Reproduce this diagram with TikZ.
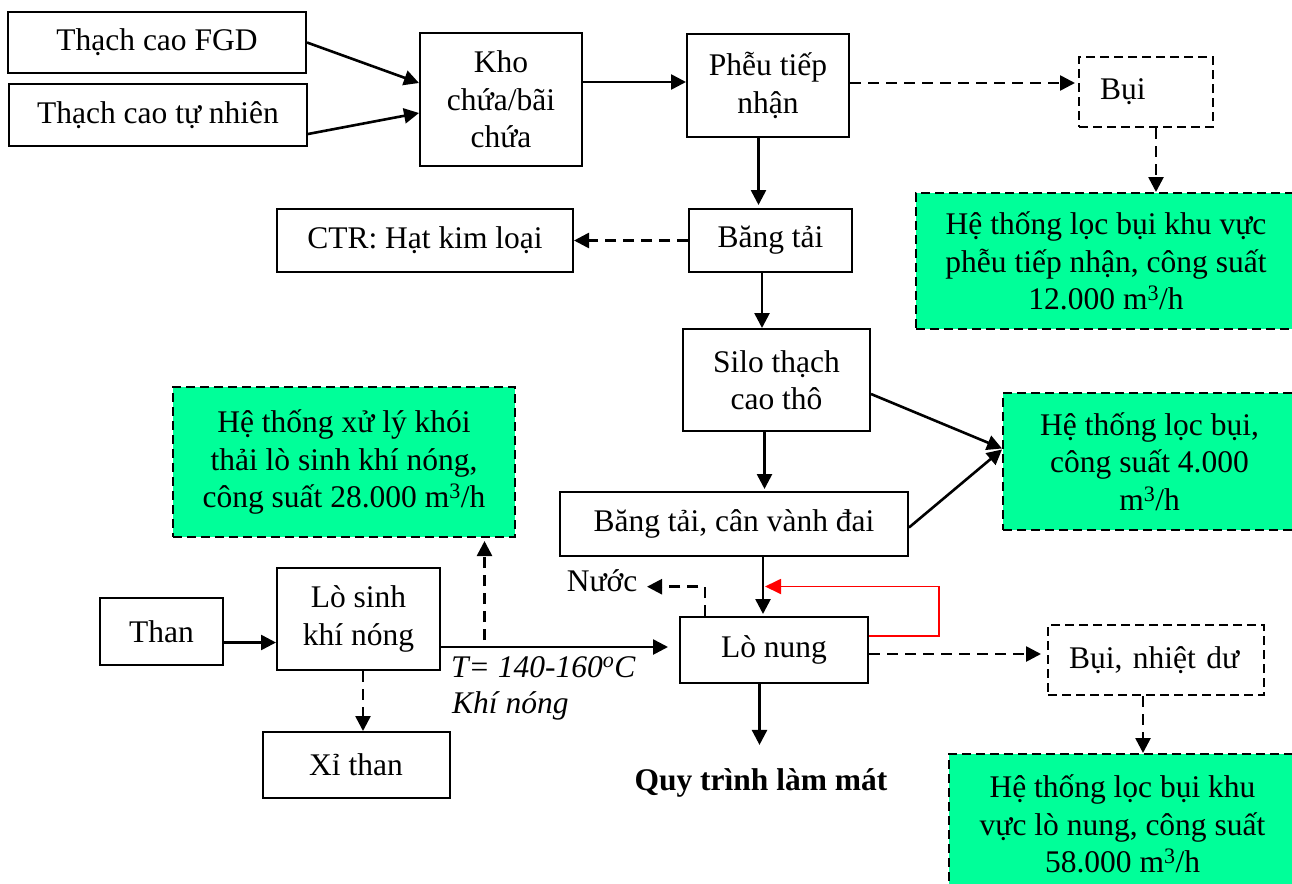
\documentclass[tikz,border=0pt]{standalone}
\usepackage{fontspec}
\setmainfont{Liberation Serif}
\usetikzlibrary{arrows.meta}
\definecolor{filtergreen}{RGB}{0,255,153}
\definecolor{loopred}{RGB}{255,0,0}
\newcommand{\diagfont}{\fontsize{31.5}{37.5}\selectfont}
\begin{document}
\begin{tikzpicture}[x=1pt,y=-1pt,
  box/.style={draw, line width=2pt, inner sep=0pt, align=center, font=\diagfont},
  dbox/.style={box, dash pattern=on 9pt off 5pt},
  gbox/.style={dbox, fill=filtergreen},
  txt/.style={inner sep=0pt, font=\diagfont},
  arr/.style={line width=2.6pt, -{Triangle[length=15pt,width=15pt]}},
  darr/.style={arr, dash pattern=on 11pt off 7pt},
  redarr/.style={line width=1.8pt, draw=loopred, -{Triangle[length=16pt,width=15pt,fill=loopred]}}]
\clip (0,0) rectangle (1292,883);

% raw material and storage
\node[box, minimum width=298pt, minimum height=61pt] (fgd) at (157,42.5) {Thạch cao FGD};
\node[box, minimum width=298pt, minimum height=62pt] (tn) at (158,115) {Thạch cao tự nhiên};
\node[box, minimum width=162pt, minimum height=133pt] (kho) at (501,99.5) {Kho\\chứa/bãi\\chứa};
\node[box, minimum width=162pt, minimum height=103pt] (pheu) at (768,85.5) {Phễu tiếp\\nhận};
\node[dbox, minimum width=134pt, minimum height=70pt, text width=92pt, align=left, inner xsep=21pt] (bui) at (1146,92) {Bụi};
\node[gbox, minimum width=380pt, minimum height=136pt] (g1) at (1106,261) {Hệ thống lọc bụi khu vực\\phễu tiếp nhận, công suất\\12.000 m\textsuperscript{3}/h};

% conveying
\node[box, minimum width=163pt, minimum height=63pt] (bang) at (770.5,240.5) {Băng tải};
\node[box, minimum width=296pt, minimum height=63pt] (ctr) at (425,240.5) {CTR: Hạt kim loại};
\node[box, minimum width=187pt, minimum height=102pt] (silo) at (776.5,380) {Silo thạch\\cao thô};
\node[box, minimum width=348pt, minimum height=64pt] (bangcan) at (734,524) {Băng tải, cân vành đai};
\node[gbox, minimum width=293pt, minimum height=137pt] (g2) at (1149.5,461.5) {Hệ thống lọc bụi,\\công suất 4.000\\m\textsuperscript{3}/h};

% hot gas generator
\node[gbox, minimum width=342pt, minimum height=150pt] (g4) at (344,462) {Hệ thống xử lý khói\\thải lò sinh khí nóng,\\công suất 28.000 m\textsuperscript{3}/h};
\node[box, minimum width=123pt, minimum height=67pt] (than) at (161.5,631.5) {Than};
\node[box, minimum width=163pt, minimum height=102pt] (losinh) at (358.5,619) {Lò sinh\\khí nóng};
\node[box, minimum width=187pt, minimum height=66pt] (xithan) at (356,765) {Xỉ than};

% calcining
\node[box, minimum width=188pt, minimum height=66pt] (lonung) at (774,650) {Lò nung};
\node[dbox, minimum width=216pt, minimum height=70pt, text width=174pt, align=left, inner xsep=21pt] (buind) at (1156,660) {Bụi, nhiệt dư};
\node[gbox, minimum width=347pt, minimum height=140pt] (g3) at (1122.5,824) {Hệ thống lọc bụi khu\\vực lò nung, công suất\\58.000 m\textsuperscript{3}/h};

% free labels
\node[txt, anchor=base east] (nuoc) at (637.5,591) {Nước};
\node[txt, anchor=base west] (temp) at (451,677) {\itshape T= 140-160\textsuperscript{o}C};
\node[txt, anchor=base west] (khi) at (452,713) {\itshape Khí nóng};
\node[txt, anchor=base, font=\diagfont\bfseries] (quy) at (761,790) {Quy trình làm mát};

% connectors
\draw[arr] (fgd.east) -- ([yshift=16.5pt]kho.west);
\draw[arr] ([yshift=-19pt]tn.east) -- ([yshift=-13.5pt]kho.west);
\draw[arr] ([yshift=3.5pt]pheu.west -| kho.east) -- ([yshift=3.5pt]pheu.west);
\draw[darr, shorten >=3pt] ([yshift=2.5pt]pheu.east) -- ([yshift=2.5pt]pheu.east -| bui.west);
\draw[darr] ([xshift=10pt]bui.south) -- ([xshift=10pt]bui.south |- g1.north);
\draw[arr, shorten >=3pt] ([xshift=-9.5pt]pheu.south) -- ([xshift=-9.5pt]pheu.south |- bang.north);
\draw[darr] (bang.west) -- (ctr.east);
\draw[arr] ([xshift=-8.5pt]bang.south) -- ([xshift=-8.5pt]bang.south |- silo.north);
\draw[arr] ([yshift=-14pt]silo.east) -- ([yshift=13pt]g2.west);
\draw[arr] ([yshift=-3.5pt]bangcan.east) -- ([yshift=12pt]g2.west);
\draw[arr, shorten >=2pt] ([xshift=-12pt]silo.south) -- ([xshift=-12pt]silo.south |- bangcan.north);
\draw[arr, shorten >=2pt] ([xshift=29pt]bangcan.south) -- ([xshift=29pt]bangcan.south |- lonung.north);
\draw[darr] ([xshift=-69pt]lonung.north) |- ([xshift=9.5pt,yshift=4.3pt]nuoc.base east);

% recirculation loop
\coordinate (loopcorner) at (939,586.5);
\coordinate (looptip) at (765,586.5);
\draw[redarr] ([yshift=14pt]lonung.east) -| (loopcorner) -- (looptip);

\draw[darr, shorten >=6pt] ([yshift=-4pt]lonung.east) -- ([yshift=-4pt]lonung.east -| buind.west);
\draw[darr] ([xshift=-13pt]buind.south) -- ([xshift=-13pt]buind.south |- g3.north);
\draw[arr, shorten >=23pt] ([xshift=-14.5pt]lonung.south) -- ([xshift=-14.5pt]lonung.south |- quy.north);

\draw[arr] ([yshift=-11pt]than.east) -- ([yshift=-11pt]than.east -| losinh.west);
\draw[arr, shorten >=11pt] ([yshift=-28pt]losinh.east) -- ([yshift=-28pt]losinh.east -| lonung.west);
\coordinate (tap) at (484.5,640);
\draw[darr, shorten >=3pt] (tap) -- (tap |- g4.south);
\draw[darr] ([xshift=4.5pt]losinh.south) -- ([xshift=4.5pt]losinh.south |- xithan.north);
\end{tikzpicture}
\end{document}
